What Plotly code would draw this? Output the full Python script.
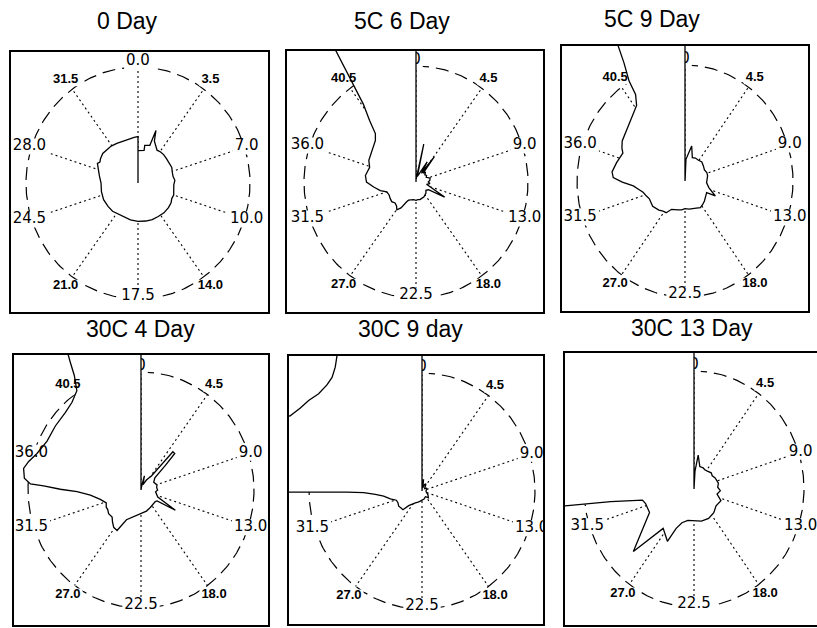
import numpy as np
import plotly.graph_objects as go

W, H = 817, 628

titles = ["0 Day", "5C 6 Day", "5C 9 Day", "30C 4 Day", "30C 9 day", "30C 13 Day"]
labels_day0 = ["0.0", "3.5", "7.0", "10.0", "14.0", "17.5", "21.0", "24.5", "28.0", "31.5"]
labels_stored = ["0", "4.5", "9.0", "13.0", "18.0", "22.5", "27.0", "31.5", "36.0", "40.5"]

# profile data: angle (deg, clockwise from top) and radius (1 = dashed circle)
theta_0day = [0, 11, 10.5, 18, 18.5, 19.5, 22, 28, 31, 37, 43, 50, 58, 66, 73, 80, 86, 93, 100, 108,
              114, 120, 128, 138, 148, 158, 168, 180, 192, 203, 213, 223, 233, 245, 257, 270, 280,
              286, 291, 295, 298, 302, 309, 316, 323, 331, 339, 348, 355, 360]
r_0day = [0.28, 0.286, 0.33, 0.342, 0.41, 0.48, 0.39, 0.35, 0.33, 0.335, 0.335, 0.33, 0.324, 0.33,
          0.32, 0.318, 0.33, 0.32, 0.324, 0.335, 0.33, 0.341, 0.345, 0.346, 0.34, 0.34, 0.335, 0.33,
          0.325, 0.318, 0.325, 0.333, 0.335, 0.339, 0.335, 0.33, 0.35, 0.368, 0.38, 0.40, 0.385,
          0.395, 0.405, 0.4, 0.398, 0.39, 0.385, 0.39, 0.395, 0.40]

theta_5c6 = [1, 12, 14, 22, 30, 33, 37, 40, 45, 52, 59, 66, 75, 83, 90, 96, 102, 110, 117, 121, 129,
             137, 145, 151, 160, 167, 174, 180, 188, 197, 203, 206, 211, 215.6, 220, 226, 232, 238,
             245, 252, 257, 263.5, 270, 277, 283, 287, 294, 301, 308, 314.7, 319, 322, 325, 326, 327,
             327.7, 329, 335, 360]
r_5c6 = [0.02, 0.333, 0.05, 0.078, 0.2, 0.09, 0.27, 0.1, 0.12, 0.1, 0.11, 0.1, 0.13, 0.125, 0.11,
         0.125, 0.096, 0.15, 0.287, 0.13, 0.114, 0.13, 0.14, 0.147, 0.15, 0.156, 0.152, 0.158, 0.154,
         0.159, 0.17, 0.19, 0.26, 0.294, 0.27, 0.26, 0.275, 0.271, 0.265, 0.274, 0.327, 0.38, 0.442,
         0.455, 0.44, 0.433, 0.461, 0.47, 0.49, 0.51, 0.553, 0.673, 0.82, 0.969, 1.13, 1.34, 1.6,
         2.2, 2.2]

theta_5c9 = [5, 2.7, 11.6, 18.7, 26, 33.8, 43.6, 52, 62, 70, 78, 86, 94, 104.5, 114.7, 116.6, 125,
             133.7, 141, 148, 156, 163, 171, 180, 187, 194.6, 201, 207, 212.5, 218, 224, 229, 234,
             240, 245, 250, 256, 261, 265, 269, 272.5, 276.6, 284, 292.6, 296, 300.7, 305, 309.6,
             314, 317.9, 321, 325.5, 328.5, 329, 331, 332, 334, 360]
r_5c9 = [0.015, 0.187, 0.308, 0.212, 0.22, 0.218, 0.226, 0.215, 0.204, 0.215, 0.214, 0.205, 0.2,
         0.228, 0.309, 0.224, 0.235, 0.249, 0.26, 0.27, 0.255, 0.25, 0.245, 0.239, 0.25, 0.258,
         0.262, 0.274, 0.324, 0.33, 0.348, 0.36, 0.37, 0.365, 0.364, 0.38, 0.40, 0.44, 0.48, 0.581,
         0.665, 0.68, 0.653, 0.623, 0.65, 0.676, 0.685, 0.697, 0.72, 0.736, 0.76, 0.791, 0.876,
         1.005, 1.167, 1.317, 1.6, 2.2]

theta_30c4 = [10, 14, 21, 30, 38, 41, 44, 46, 50, 60, 73, 82, 90, 97, 104, 112, 119.4, 123, 128, 140,
              151, 165, 180, 188, 196, 207, 211.7, 217.6, 223, 228, 235, 240.6, 245, 250.5, 257.5,
              264.5, 268.6, 270.5, 272.3, 273, 275.5, 280, 283.7, 288.6, 296.5, 305.6, 314.4, 320.6,
              326, 328.7, 330, 330.7, 333, 360]
r_30c4 = [0.03, 0.124, 0.05, 0.1, 0.15, 0.43, 0.43, 0.3, 0.16, 0.13, 0.148, 0.14, 0.147, 0.13, 0.14,
          0.16, 0.349, 0.17, 0.16, 0.165, 0.17, 0.185, 0.2, 0.21, 0.232, 0.283, 0.403, 0.397, 0.37,
          0.344, 0.35, 0.338, 0.34, 0.326, 0.369, 0.45, 0.566, 0.714, 0.862, 0.98, 1.037, 1.055,
          1.023, 0.971, 0.929, 0.932, 0.938, 0.962, 1.015, 1.136, 1.253, 1.327, 1.6, 2.2]

theta_30c9 = [3, 8, 14, 22, 30, 40, 50, 62, 75, 90, 105, 120, 135, 148, 165, 180, 190, 200, 210.5,
              223.6, 226.8, 232, 238, 245, 251, 256.7, 262.8, 266, 268.4, 269.2, 269.5, 269.6, 275,
              290, 297, 298.5, 303, 307.4, 312, 316.9, 320.4, 323.8, 326.8, 330, 345, 360]
r_30c9 = [0.02, 0.1, 0.03, 0.06, 0.07, 0.04, 0.03, 0.05, 0.04, 0.035, 0.04, 0.06, 0.08, 0.057, 0.07,
          0.08, 0.087, 0.1, 0.116, 0.171, 0.231, 0.235, 0.243, 0.235, 0.24, 0.288, 0.342, 0.414,
          0.516, 0.664, 0.959, 1.4, 1.8, 1.8, 1.45, 1.33, 1.287, 1.263, 1.231, 1.231, 1.249, 1.3,
          1.373, 2.2, 2.2, 2.2]

theta_30c13 = [5, 3.4, 7.6, 15.5, 24.7, 31, 38.7, 48.7, 56, 63.9, 77.5, 86, 93.4, 101.6, 112, 125.4,
               138, 151.9, 166, 180, 191.9, 200.9, 205.9, 208.6, 220, 226.2, 243.7, 254.4, 258.7,
               262, 262.7, 263.5, 270, 300, 330, 360]
r_30c13 = [0.01, 0.151, 0.289, 0.198, 0.198, 0.19, 0.194, 0.208, 0.2, 0.214, 0.227, 0.216, 0.24,
           0.214, 0.264, 0.246, 0.269, 0.282, 0.28, 0.271, 0.272, 0.306, 0.371, 0.505, 0.436, 0.764,
           0.451, 0.457, 0.478, 0.765, 1.121, 1.5, 2.2, 2.2, 2.2, 2.2]

profiles = [(theta_0day, r_0day), (theta_5c6, r_5c6), (theta_5c9, r_5c9),
            (theta_30c4, r_30c4), (theta_30c9, r_30c9), (theta_30c13, r_30c13)]
label_sets = [labels_day0] + [labels_stored] * 5

# layout (pixels): box (x0, x1, y0, y1), circle centre, radii, title position
panels = [
    dict(box=(11, 268, 52, 312), c=(138, 183), R=(112, 116), t=(128, 21), mirror_y=True),
    dict(box=(287, 543, 51, 312), c=(416, 182), R=(112, 116), t=(402, 21), mirror_y=True),
    dict(box=(562, 808, 46, 311), c=(685, 181), R=(108, 116), t=(652, 19), mirror_y=True),
    dict(box=(14, 268, 355, 625), c=(141, 490), R=(113, 118), t=(140, 329), mirror_y=True),
    dict(box=(289, 543, 356, 624), c=(422, 491), R=(113, 118), t=(410, 329), mirror_y=True),
    dict(box=(565, 817, 353, 625), c=(694, 489), R=(110, 118), t=(692, 328), mirror_y=False),
]
spoke_angles = np.arange(0, 360, 36)
label_radius = [1.05, 1.1, 1.02, 1.02, 1.1, 0.98, 1.1, 1.02, 1.02, 1.1]
bold_idx = {1, 4, 6, 9}
BIG = dict(family="DejaVu Sans, Arial", size=15, color="black")
SMALL = dict(family="Liberation Sans, Arial", size=13, color="black", weight="bold")


def text_width(s, bold):
    if bold:
        return sum(0.278 if ch == "." else 0.556 for ch in s) * SMALL["size"]
    return sum(0.318 if ch == "." else 0.636 for ch in s) * BIG["size"]


def inside(px, py, x, y):
    res = False
    n = len(px)
    for k in range(n):
        xa_, ya_ = px[k], py[k]
        xb_, yb_ = px[(k + 1) % n], py[(k + 1) % n]
        if (ya_ > y) != (yb_ > y):
            xc = xa_ + (y - ya_) * (xb_ - xa_) / (yb_ - ya_)
            if xc > x:
                res = not res
    return res


fig = go.Figure()


def add_labels(xa, ya, labs, keys, RX, RY):
    if not keys:
        return
    bx, by = [], []
    for k in keys:
        a = np.radians(spoke_angles[k])
        lx, ly = label_radius[k] * np.sin(a), label_radius[k] * np.cos(a)
        b = k in bold_idx
        hw = (text_width(labs[k], b) / 2 + 2) / RX
        hh = ((5.5 if b else 7) + 1) / RY
        bx += [lx - hw, lx + hw, lx + hw, lx - hw, lx - hw, None]
        by += [ly - hh, ly - hh, ly + hh, ly + hh, ly - hh, None]
    fig.add_trace(go.Scatter(x=bx, y=by, mode="lines", fill="toself", fillcolor="white",
                             line=dict(width=0, color="white"), xaxis=xa, yaxis=ya,
                             hoverinfo="skip"))
    for bold in (False, True):
        idx = [k for k in keys if (k in bold_idx) == bold]
        if not idx:
            continue
        ang = np.radians(spoke_angles[idx])
        rl = np.array([label_radius[k] for k in idx])
        fig.add_trace(go.Scatter(
            x=rl * np.sin(ang), y=rl * np.cos(ang), mode="text", xaxis=xa, yaxis=ya,
            text=[labs[k] for k in idx], textposition="middle center",
            textfont=SMALL if bold else BIG, hoverinfo="skip"))


for i, p in enumerate(panels):
    sfx = "" if i == 0 else str(i + 1)
    xa, ya = "x" + sfx, "y" + sfx
    x0, x1, y0, y1 = p["box"]
    cx, cy = p["c"]
    RX, RY = p["R"]
    fig.update_layout(**{
        "xaxis" + sfx: dict(domain=[x0 / W, min(x1 / W, 1.0)],
                            range=[(x0 - cx) / RX, (x1 - cx) / RX],
                            showgrid=False, zeroline=False, showticklabels=False, ticks="",
                            showline=True, mirror=True, linecolor="black", linewidth=1.6,
                            fixedrange=True, anchor=ya),
        "yaxis" + sfx: dict(domain=[1 - y1 / H, 1 - y0 / H],
                            range=[(cy - y1) / RY, (cy - y0) / RY],
                            showgrid=False, zeroline=False, showticklabels=False, ticks="",
                            showline=True, mirror=p["mirror_y"], linecolor="black", linewidth=1.6,
                            fixedrange=True, anchor=xa),
    })
    # dashed circle
    tc = np.radians(np.arange(0, 361, 1))
    fig.add_trace(go.Scatter(x=np.sin(tc), y=np.cos(tc), mode="lines", xaxis=xa, yaxis=ya,
                             line=dict(color="black", width=1.2, dash="13px,7px"),
                             hoverinfo="skip"))
    # dotted spokes
    sx, sy = [], []
    for a in np.radians(spoke_angles):
        sx += [0, np.sin(a), None]
        sy += [0, np.cos(a), None]
    fig.add_trace(go.Scatter(x=sx, y=sy, mode="lines", xaxis=xa, yaxis=ya,
                             line=dict(color="black", width=1.1, dash="2px,3px"),
                             hoverinfo="skip"))
    # profile polygon
    th, rr = profiles[i]
    th = np.radians(np.array(th, dtype=float))
    rr = np.array(rr, dtype=float)
    px = np.concatenate([[0.0], rr * np.sin(th), [0.0]])
    py = np.concatenate([[0.0], rr * np.cos(th), [0.0]])
    labs = label_sets[i]
    outside_keys, inside_keys = [], []
    for k in range(10):
        a = np.radians(spoke_angles[k])
        lx, ly = label_radius[k] * np.sin(a) - 0.01, label_radius[k] * np.cos(a)
        (inside_keys if inside(px, py, lx, ly) else outside_keys).append(k)
    # labels under the profile (partly hidden by it)
    add_labels(xa, ya, labs, inside_keys, RX, RY)
    # white fill of the profile
    fig.add_trace(go.Scatter(x=px, y=py, mode="none", xaxis=xa, yaxis=ya, fill="toself",
                             fillcolor="white", hoverinfo="skip"))
    # labels outside the profile
    add_labels(xa, ya, labs, outside_keys, RX, RY)
    # profile outline
    fig.add_trace(go.Scatter(x=px, y=py, mode="lines", xaxis=xa, yaxis=ya,
                             line=dict(color="black", width=1.3), hoverinfo="skip"))
    fig.add_annotation(x=p["t"][0] / W, y=1 - p["t"][1] / H, xref="paper", yref="paper",
                       text=titles[i], showarrow=False, xanchor="center", yanchor="middle",
                       font=dict(family="Liberation Sans, Arial", size=23, color="black"))

fig.update_layout(width=W, height=H, margin=dict(l=0, r=0, t=0, b=0),
                  paper_bgcolor="white", plot_bgcolor="white", showlegend=False,
                  hovermode=False)
fig.write_html("out.html", config={"displayModeBar": False, "staticPlot": True},
               post_script="document.body.style.margin='0';document.body.style.overflow='hidden';")
